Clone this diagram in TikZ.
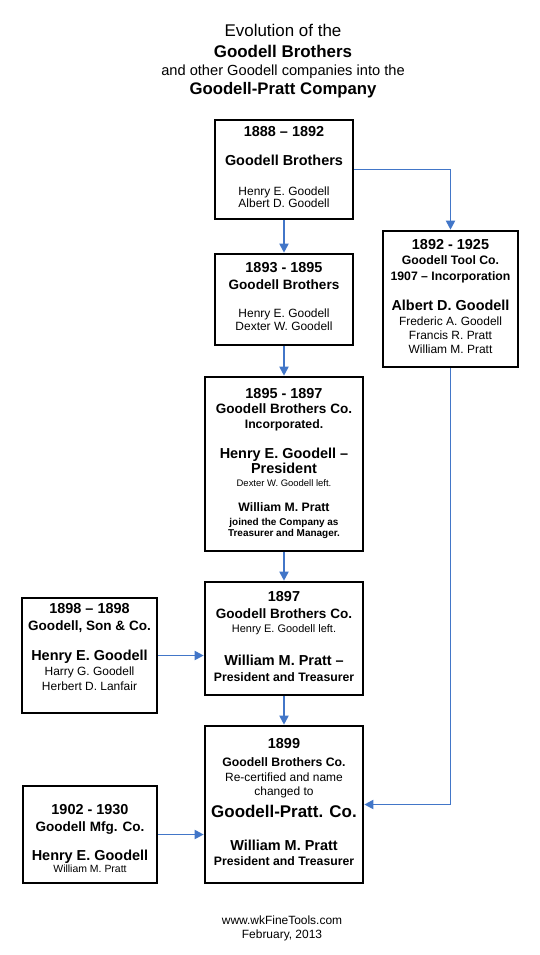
\documentclass[tikz,border=0pt]{standalone}
\usepackage{fontspec}
\setmainfont{Liberation Sans}
\usetikzlibrary{arrows.meta}
\definecolor{linkblue}{RGB}{66,118,200}
\newcommand{\ftitle}{\fontsize{17}{20}\selectfont}
\newcommand{\ftitlesub}{\fontsize{14.7}{17}\selectfont}
\newcommand{\ftitleb}{\fontsize{17}{20}\selectfont\bfseries}
\newcommand{\ftitlec}{\fontsize{16.8}{19}\selectfont\bfseries}
\newcommand{\fbig}{\fontsize{17}{20}\selectfont\bfseries}
\newcommand{\fyear}{\fontsize{14.5}{17}\selectfont\bfseries}
\newcommand{\fhead}{\fontsize{13.6}{16}\selectfont\bfseries}
\newcommand{\fsub}{\fontsize{12.3}{14}\selectfont\bfseries}
\newcommand{\fnote}{\fontsize{10}{12}\selectfont\bfseries}
\newcommand{\fname}{\fontsize{12}{14}\selectfont}
\newcommand{\fleft}{\fontsize{11}{13}\selectfont}
\newcommand{\fsmall}{\fontsize{9.5}{11}\selectfont}
\newcommand{\ftiny}{\fontsize{10.5}{12}\selectfont}

\begin{document}
\begin{tikzpicture}[x=1bp,y=-1bp,
    box/.style={draw,line width=2.6bp,inner sep=0pt},
    link/.style={draw=linkblue,line width=1.8bp,-{Triangle[length=9bp,width=9bp]}}]
    \useasboundingbox (0,0) rectangle (540,955);
    % Title
    \foreach \yy/\ff/\txt [count=\i] in {36/\ftitle/Evolution of the,
            57/\ftitleb/Goodell Brothers,
            75/\ftitlesub/and other Goodell companies into the,
            94/\ftitlec/Goodell-Pratt Company}
        \node[anchor=base,font=\ff] (title\i) at (283,\yy) {\txt};
    % 1888 - 1892
    \node[box,minimum width=138bp,minimum height=99bp] (b1888) at (284,169.5) {};
    \foreach \dy/\ff/\txt [count=\i] in {18/\fyear/1888 – 1892,47/\fyear/Goodell Brothers,
            77/\fname/Henry E. Goodell,89/\fname/Albert D. Goodell}
        \node[anchor=base,font=\ff] (b1888-\i) at ([yshift=-\dy bp]b1888.north) {\txt};
    % 1893 - 1895
    \node[box,minimum width=138bp,minimum height=91bp] (b1893) at (284,299.5) {};
    \foreach \dy/\ff/\txt [count=\i] in {20/\fyear/1893 - 1895,37/\fhead/Goodell Brothers,
            65/\fname/Henry E. Goodell,78/\fname/Dexter W. Goodell}
        \node[anchor=base,font=\ff] (b1893-\i) at ([yshift=-\dy bp]b1893.north) {\txt};
    % 1892 - 1925
    \node[box,minimum width=135bp,minimum height=136bp] (b1892) at (450.5,299) {};
    \foreach \dy/\ff/\txt [count=\i] in {20/\fyear/1892 - 1925,35/\fsub/Goodell Tool Co.,
            51/\fsub/1907 – Incorporation,81/\fyear/Albert D. Goodell,
            96/\fname/Frederic A. Goodell,110/\fname/Francis R. Pratt,124/\fname/William M. Pratt}
        \node[anchor=base,font=\ff] (b1892-\i) at ([yshift=-\dy bp]b1892.north) {\txt};
    % 1895 - 1897
    \node[box,minimum width=158bp,minimum height=174bp] (b1895) at (284,464) {};
    \foreach \dy/\ff/\txt [count=\i] in {23/\fyear/1895 - 1897,38/\fhead/Goodell Brothers Co.,
            53/\fsub/Incorporated.,83/\fyear/Henry E. Goodell –,98/\fyear/President,
            111/\fsmall/Dexter W. Goodell left.,136/\fsub/William M. Pratt,
            150/\fnote/joined the Company as,161/\fnote/Treasurer and Manager.}
        \node[anchor=base,font=\ff] (b1895-\i) at ([yshift=-\dy bp]b1895.north) {\txt};
    % 1897
    \node[box,minimum width=158bp,minimum height=113bp] (b1897) at (284,638.5) {};
    \foreach \dy/\ff/\txt [count=\i] in {21/\fyear/1897,38/\fhead/Goodell Brothers Co.,
            52/\fleft/Henry E. Goodell left.,85/\fyear/William M. Pratt –,
            101/\fsub/President and Treasurer}
        \node[anchor=base,font=\ff] (b1897-\i) at ([yshift=-\dy bp]b1897.north) {\txt};
    % 1898 - 1898
    \node[box,minimum width=135bp,minimum height=115bp] (b1898) at (89.5,655.5) {};
    \foreach \dy/\ff/\txt [count=\i] in {17/\fyear/1898 – 1898,34/\fhead/{Goodell, Son \& Co.},
            64/\fyear/Henry E. Goodell,79/\fname/Harry G. Goodell,94/\fname/Herbert D. Lanfair}
        \node[anchor=base,font=\ff] (b1898-\i) at ([yshift=-\dy bp]b1898.north) {\txt};
    % 1899
    \node[box,minimum width=158bp,minimum height=157bp] (b1899) at (284,804.5) {};
    \foreach \dy/\ff/\txt [count=\i] in {24/\fyear/1899,42/\fsub/Goodell Brothers Co.,
            57/\fname/Re-certified and name,71/\fname/changed to,93/\fbig/Goodell-Pratt. Co.,
            126/\fyear/William M. Pratt,141/\fsub/President and Treasurer}
        \node[anchor=base,font=\ff] (b1899-\i) at ([yshift=-\dy bp]b1899.north) {\txt};
    % 1902 - 1930
    \node[box,minimum width=134bp,minimum height=97bp] (b1902) at (90,834.5) {};
    \foreach \dy/\ff/\txt [count=\i] in {30/\fyear/1902 - 1930,47/\fhead/Goodell Mfg. Co.,
            76/\fyear/Henry E. Goodell,88/\ftiny/William M. Pratt}
        \node[anchor=base,font=\ff] (b1902-\i) at ([yshift=-\dy bp]b1902.north) {\txt};
    % Arrows
    \draw[link] (b1888.south) -- (b1893.north);
    \draw[link] (b1893.south) -- (b1895.north);
    \draw[link] (b1895.south) -- (b1897.north);
    \draw[link] (b1897.south) -- (b1899.north);
    \draw[link] (b1888.east) -| (b1892.north);
    \draw[link] (b1892.south) |- (b1899.east);
    \draw[link] (b1898.east) -- (b1898.east -| b1897.west);
    \draw[link] (b1902.east) -- (b1902.east -| b1899.west);
    % Footer
    \node[anchor=base,font=\fname] (site) at (282,924) {www.wkFineTools.com};
    \node[anchor=base,font=\fname] (date) at (282,938) {February, 2013};
\end{tikzpicture}
\end{document}
